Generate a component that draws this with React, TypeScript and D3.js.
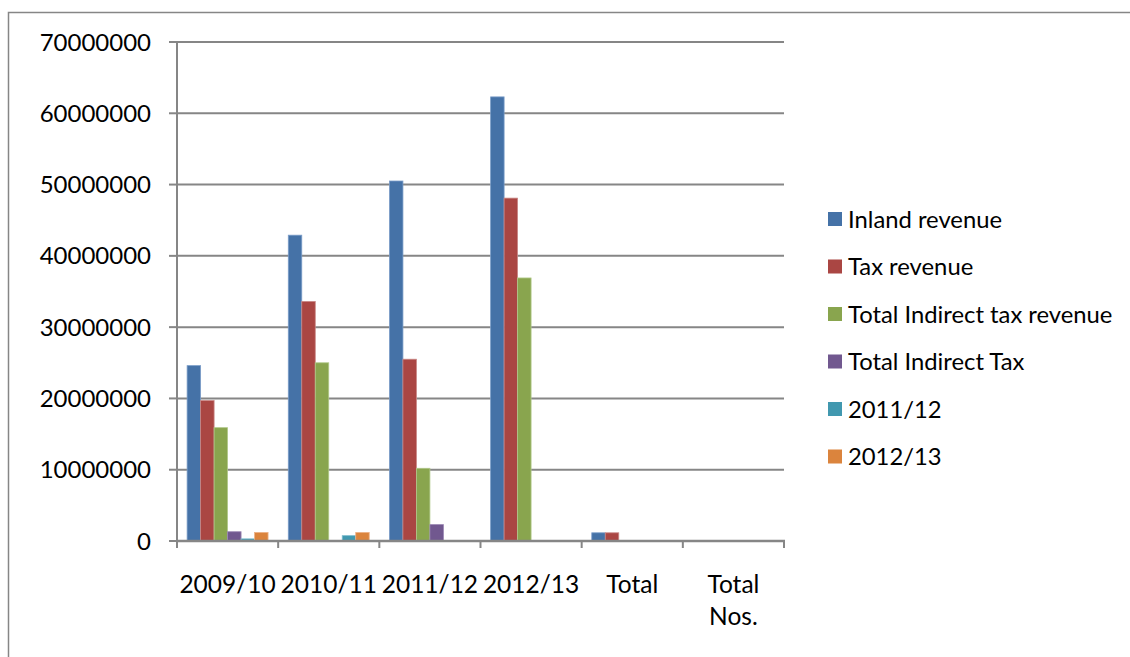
import React from "react";
import * as d3 from "d3";

const categories = ["2009/10", "2010/11", "2011/12", "2012/13", "Total", "Total Nos."];
const seriesNames = ["Inland revenue", "Tax revenue", "Total Indirect tax revenue", "Total Indirect Tax", "2011/12", "2012/13"];
const inlandRevenue = [24600000, 42900000, 50500000, 62300000, 1150000, 0];
const taxRevenue = [19700000, 33600000, 25500000, 48100000, 1150000, 0];
const totalIndirectTaxRevenue = [15900000, 25000000, 10200000, 36900000, 0, 0];
const totalIndirectTax = [1300000, 0, 2300000, 0, 0, 0];
const s2011_12 = [300000, 750000, 0, 0, 0, 0];
const s2012_13 = [1200000, 1200000, 0, 0, 0, 0];
const seriesValues = [inlandRevenue, taxRevenue, totalIndirectTaxRevenue, totalIndirectTax, s2011_12, s2012_13];
const colors = ["#4572A7", "#AA4643", "#89A54E", "#71588F", "#4198AF", "#DB843D"];
const strokes = ["#7A9CC8", "#C98785", "#B1C98A", "#9A86B3", "#7EBCCD", "#EDB186"];
const yTicks = [0, 10000000, 20000000, 30000000, 40000000, 50000000, 60000000, 70000000];

const FONT = "Lato, 'Open Sans', sans-serif";
const GRID = "#868686";

export default function App() {
  const left = 177, right = 784, top = 42, bottom = 541;
  const x = d3.scaleBand<string>().domain(categories).range([left, right]).paddingInner(0).paddingOuter(0);
  const bw = x.bandwidth();
  const gap = bw / 7.5 * 1.5;
  const inner = d3.scaleBand<number>().domain(d3.range(seriesNames.length)).range([gap / 2, bw - gap / 2]).padding(0);
  const y = d3.scaleLinear().domain([0, 70000000]).range([bottom, top]);

  return (
    <svg width={1130} height={657} style={{ position: "absolute", left: 0, top: 0, background: "#fff" }}>
      <rect x={8.5} y={12.5} width={1200} height={700} fill="#fff" stroke={GRID} strokeWidth={1.5} />
      {yTicks.slice(1).map((t) => (
        <line key={"g" + t} x1={left} x2={right} y1={y(t)} y2={y(t)} stroke={GRID} strokeWidth={2} />
      ))}
      {yTicks.map((t) => (
        <g key={"yt" + t}>
          <line x1={169} x2={left} y1={y(t)} y2={y(t)} stroke={GRID} strokeWidth={2} />
          <text x={151} y={y(t)} dy="0.36em" textAnchor="end" fontFamily={FONT} fontSize={24} fill="#000">
            {t}
          </text>
        </g>
      ))}
      {seriesValues.map((vals, si) =>
        vals.map((v, ci) =>
          v > 0 ? (
            <rect
              key={`b${si}-${ci}`}
              x={(x(categories[ci]) as number) + (inner(si) as number)}
              y={y(v)}
              width={inner.bandwidth()}
              height={bottom - y(v)}
              fill={colors[si]}
              stroke={strokes[si]}
              strokeWidth={0.8}
            />
          ) : null
        )
      )}
      <line x1={left} x2={left} y1={top} y2={bottom + 1} stroke={GRID} strokeWidth={2} />
      <line x1={left - 1} x2={right + 1} y1={bottom} y2={bottom} stroke={GRID} strokeWidth={2.5} />
      {categories.map((c, i) => (
        <line key={"xt" + i} x1={x(c) as number} x2={x(c) as number} y1={bottom} y2={548} stroke={GRID} strokeWidth={2} />
      ))}
      <line x1={right} x2={right} y1={bottom} y2={548} stroke={GRID} strokeWidth={2} />
      {categories.map((c) => {
        const cx = (x(c) as number) + bw / 2;
        const lines = c === "Total Nos." ? ["Total", "Nos."] : [c];
        return (
          <text key={"xl" + c} x={cx} y={593} textAnchor="middle" fontFamily={FONT} fontSize={24.5} fill="#000">
            {lines.map((l, k) => (
              <tspan key={k} x={cx} dy={k === 0 ? 0 : 32}>
                {l}
              </tspan>
            ))}
          </text>
        );
      })}
      {seriesNames.map((n, i) => {
        const cy = 219 + i * 47.5;
        return (
          <g key={"lg" + i}>
            <rect x={828} y={cy - 7} width={14} height={14} fill={colors[i]} />
            <text x={848} y={cy} dy="0.36em" fontFamily={FONT} fontSize={23.8} fill="#000">
              {n}
            </text>
          </g>
        );
      })}
    </svg>
  );
}
